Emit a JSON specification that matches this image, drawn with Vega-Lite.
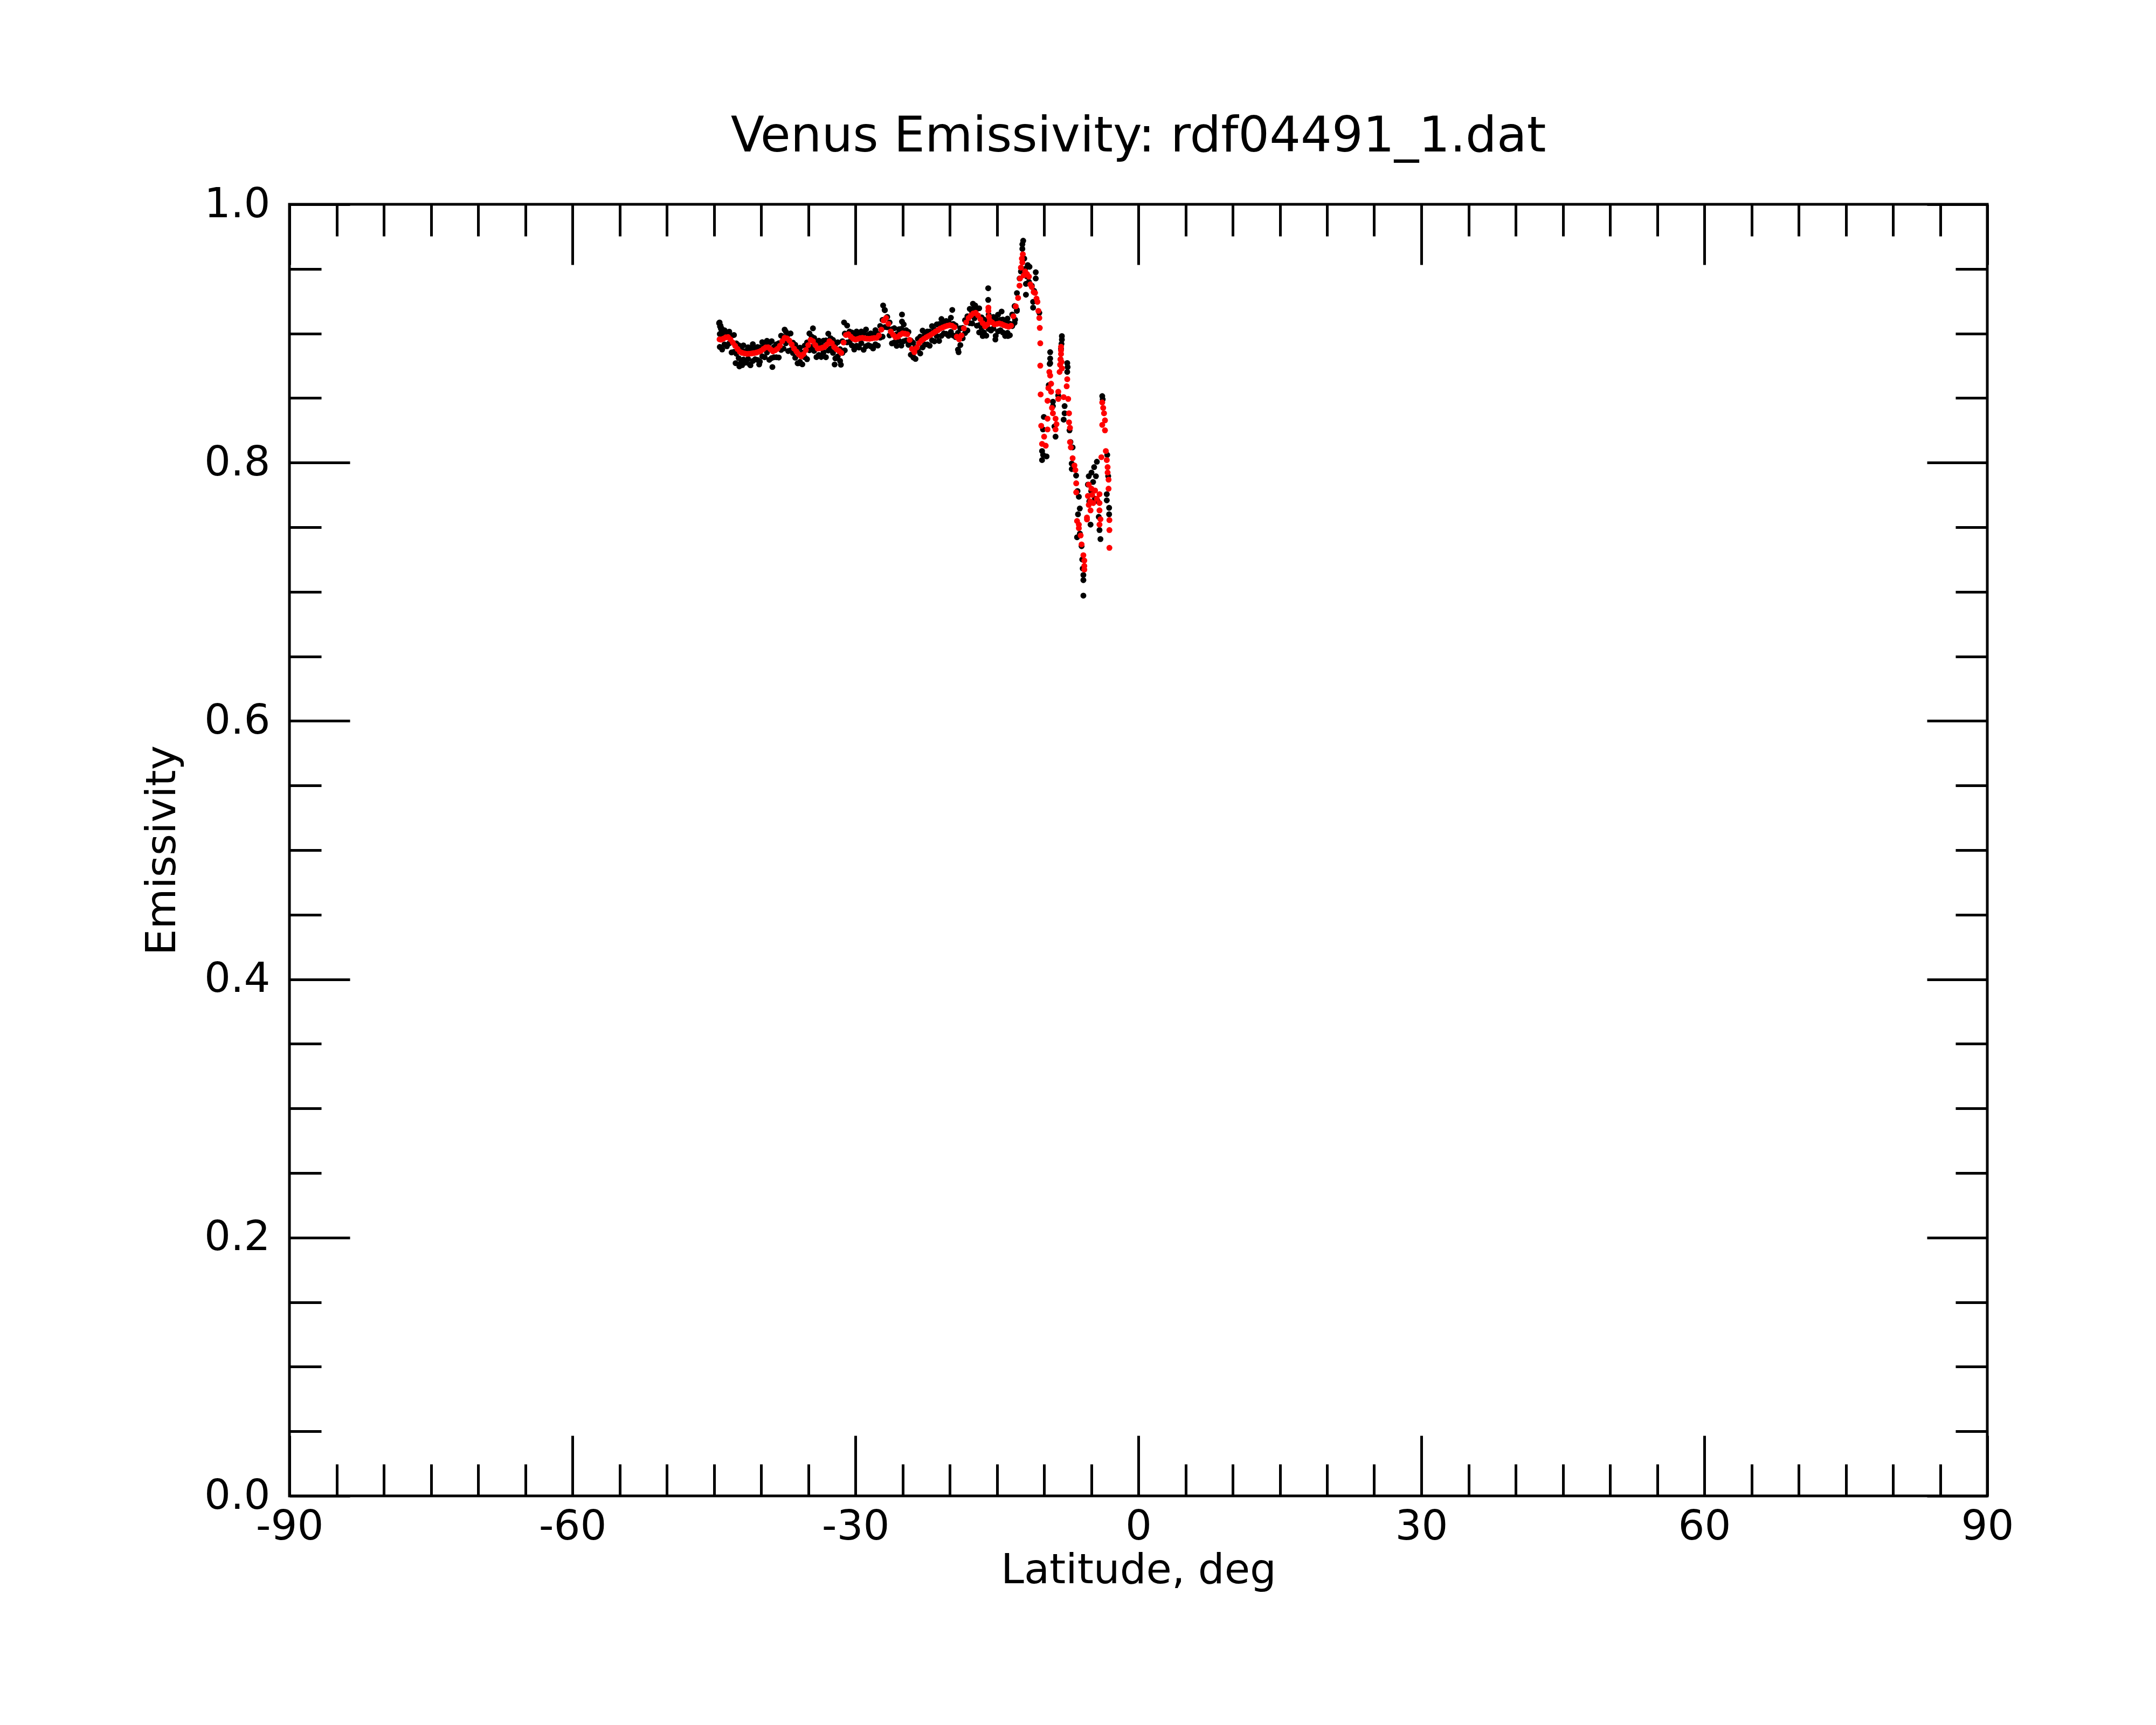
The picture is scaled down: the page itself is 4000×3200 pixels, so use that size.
{
  "$schema": "https://vega.github.io/schema/vega-lite/v6.json",
  "autosize": "none",
  "width": 3150,
  "height": 2396,
  "padding": {"left": 537, "top": 379, "right": 313, "bottom": 425},
  "background": "white",
  "title": {
    "text": "Venus Emissivity: rdf04491_1.dat",
    "font": "DejaVu Sans",
    "fontSize": 91,
    "fontWeight": "normal",
    "color": "black",
    "anchor": "middle",
    "offset": 40
  },
  "config": {
    "view": {"stroke": "black", "strokeWidth": 5},
    "font": "DejaVu Sans",
    "axis": {
      "domain": false,
      "grid": false,
      "tickColor": "black",
      "tickWidth": 5,
      "labelFont": "DejaVu Sans",
      "labelFontSize": 77,
      "labelColor": "black",
      "labelOverlap": false,
      "labelFlush": false,
      "titleFont": "DejaVu Sans",
      "titleFontSize": 77,
      "titleFontWeight": "normal",
      "titleColor": "black"
    }
  },
  "datasets": {
    "raw": [
      {"lat": -44.45, "e": 0.908}, {"lat": -44.4, "e": 0.9085}, {"lat": -44.35, "e": 0.9055}, {"lat": -44.3, "e": 0.906}, {"lat": -44.25, "e": 0.9035}, {"lat": -44.2, "e": 0.904}, {"lat": -44.15, "e": 0.901},
      {"lat": -44.375, "e": 0.8896}, {"lat": -44.375, "e": 0.8996},
      {"lat": -44.125, "e": 0.8876}, {"lat": -44.125, "e": 0.8986},
      {"lat": -43.875, "e": 0.8915}, {"lat": -43.875, "e": 0.9025},
      {"lat": -43.625, "e": 0.8901}, {"lat": -43.625, "e": 0.8991},
      {"lat": -43.375, "e": 0.8924}, {"lat": -43.375, "e": 0.9014},
      {"lat": -43.125, "e": 0.8853}, {"lat": -43.125, "e": 0.8983},
      {"lat": -42.875, "e": 0.8858}, {"lat": -42.875, "e": 0.8988},
      {"lat": -42.625, "e": 0.8843}, {"lat": -42.625, "e": 0.8923},
      {"lat": -42.375, "e": 0.8809}, {"lat": -42.375, "e": 0.8909},
      {"lat": -42.125, "e": 0.8774}, {"lat": -42.125, "e": 0.8884},
      {"lat": -41.875, "e": 0.8798}, {"lat": -41.875, "e": 0.8908},
      {"lat": -41.625, "e": 0.8774}, {"lat": -41.625, "e": 0.8864},
      {"lat": -41.375, "e": 0.8803}, {"lat": -41.375, "e": 0.8893},
      {"lat": -41.125, "e": 0.8754}, {"lat": -41.125, "e": 0.8884},
      {"lat": -40.875, "e": 0.8787}, {"lat": -40.875, "e": 0.8917},
      {"lat": -40.625, "e": 0.88}, {"lat": -40.625, "e": 0.888},
      {"lat": -40.375, "e": 0.8795}, {"lat": -40.375, "e": 0.8895},
      {"lat": -40.125, "e": 0.8782}, {"lat": -40.125, "e": 0.8892},
      {"lat": -39.875, "e": 0.8823}, {"lat": -39.875, "e": 0.8933},
      {"lat": -39.625, "e": 0.8816}, {"lat": -39.625, "e": 0.8906},
      {"lat": -39.375, "e": 0.8853}, {"lat": -39.375, "e": 0.8943},
      {"lat": -39.125, "e": 0.8796}, {"lat": -39.125, "e": 0.8926},
      {"lat": -38.875, "e": 0.881}, {"lat": -38.875, "e": 0.894},
      {"lat": -38.625, "e": 0.8816}, {"lat": -38.625, "e": 0.8896},
      {"lat": -38.375, "e": 0.8816}, {"lat": -38.375, "e": 0.8916},
      {"lat": -38.125, "e": 0.8814}, {"lat": -38.125, "e": 0.8924},
      {"lat": -37.875, "e": 0.8873}, {"lat": -37.875, "e": 0.8983},
      {"lat": -37.625, "e": 0.8883}, {"lat": -37.625, "e": 0.8973},
      {"lat": -37.375, "e": 0.8924}, {"lat": -37.375, "e": 0.9014},
      {"lat": -37.125, "e": 0.8864}, {"lat": -37.125, "e": 0.8994},
      {"lat": -36.875, "e": 0.887}, {"lat": -36.875, "e": 0.9},
      {"lat": -36.625, "e": 0.8849}, {"lat": -36.625, "e": 0.8929},
      {"lat": -36.375, "e": 0.8812}, {"lat": -36.375, "e": 0.8912},
      {"lat": -36.125, "e": 0.8769}, {"lat": -36.125, "e": 0.8879},
      {"lat": -35.875, "e": 0.878}, {"lat": -35.875, "e": 0.889},
      {"lat": -35.625, "e": 0.8761}, {"lat": -35.625, "e": 0.8851},
      {"lat": -35.375, "e": 0.8816}, {"lat": -35.375, "e": 0.8906},
      {"lat": -35.125, "e": 0.8801}, {"lat": -35.125, "e": 0.8931},
      {"lat": -34.875, "e": 0.887}, {"lat": -34.875, "e": 0.9},
      {"lat": -34.625, "e": 0.8895}, {"lat": -34.625, "e": 0.8975},
      {"lat": -34.375, "e": 0.8865}, {"lat": -34.375, "e": 0.8965},
      {"lat": -34.125, "e": 0.8817}, {"lat": -34.125, "e": 0.8927},
      {"lat": -33.875, "e": 0.8834}, {"lat": -33.875, "e": 0.8944},
      {"lat": -33.625, "e": 0.8818}, {"lat": -33.625, "e": 0.8908},
      {"lat": -33.375, "e": 0.8854}, {"lat": -33.375, "e": 0.8944},
      {"lat": -33.125, "e": 0.8816}, {"lat": -33.125, "e": 0.8946},
      {"lat": -32.875, "e": 0.8868}, {"lat": -32.875, "e": 0.8998},
      {"lat": -32.625, "e": 0.8883}, {"lat": -32.625, "e": 0.8963},
      {"lat": -32.375, "e": 0.885}, {"lat": -32.375, "e": 0.895},
      {"lat": -32.125, "e": 0.8807}, {"lat": -32.125, "e": 0.8917},
      {"lat": -31.875, "e": 0.8822}, {"lat": -31.875, "e": 0.8932},
      {"lat": -31.625, "e": 0.8788}, {"lat": -31.625, "e": 0.8878},
      {"lat": -31.375, "e": 0.885}, {"lat": -31.375, "e": 0.894},
      {"lat": -31.125, "e": 0.8869}, {"lat": -31.125, "e": 0.8999},
      {"lat": -30.875, "e": 0.8931}, {"lat": -30.875, "e": 0.9061},
      {"lat": -30.625, "e": 0.8935}, {"lat": -30.625, "e": 0.9015},
      {"lat": -30.375, "e": 0.8908}, {"lat": -30.375, "e": 0.9008},
      {"lat": -30.125, "e": 0.8876}, {"lat": -30.125, "e": 0.8986},
      {"lat": -29.875, "e": 0.8905}, {"lat": -29.875, "e": 0.9015},
      {"lat": -29.625, "e": 0.8891}, {"lat": -29.625, "e": 0.8981},
      {"lat": -29.375, "e": 0.8925}, {"lat": -29.375, "e": 0.9015},
      {"lat": -29.125, "e": 0.8874}, {"lat": -29.125, "e": 0.9004},
      {"lat": -28.875, "e": 0.8901}, {"lat": -28.875, "e": 0.9031},
      {"lat": -28.625, "e": 0.891}, {"lat": -28.625, "e": 0.899},
      {"lat": -28.375, "e": 0.8901}, {"lat": -28.375, "e": 0.9001},
      {"lat": -28.125, "e": 0.8884}, {"lat": -28.125, "e": 0.8994},
      {"lat": -27.875, "e": 0.8916}, {"lat": -27.875, "e": 0.9026},
      {"lat": -27.625, "e": 0.8906}, {"lat": -27.625, "e": 0.8996},
      {"lat": -27.375, "e": 0.8968}, {"lat": -27.375, "e": 0.9058},
      {"lat": -27.125, "e": 0.8975}, {"lat": -27.125, "e": 0.9105},
      {"lat": -26.875, "e": 0.905}, {"lat": -26.875, "e": 0.918},
      {"lat": -26.625, "e": 0.9048}, {"lat": -26.625, "e": 0.9128},
      {"lat": -26.375, "e": 0.8985}, {"lat": -26.375, "e": 0.9085},
      {"lat": -26.125, "e": 0.8923}, {"lat": -26.125, "e": 0.9033},
      {"lat": -25.875, "e": 0.8931}, {"lat": -25.875, "e": 0.9041},
      {"lat": -25.625, "e": 0.8904}, {"lat": -25.625, "e": 0.8994},
      {"lat": -25.375, "e": 0.8943}, {"lat": -25.375, "e": 0.9033},
      {"lat": -25.125, "e": 0.8906}, {"lat": -25.125, "e": 0.9036},
      {"lat": -24.875, "e": 0.894}, {"lat": -24.875, "e": 0.907},
      {"lat": -24.625, "e": 0.8946}, {"lat": -24.625, "e": 0.9026},
      {"lat": -24.375, "e": 0.8912}, {"lat": -24.375, "e": 0.9012},
      {"lat": -24.125, "e": 0.8835}, {"lat": -24.125, "e": 0.8945},
      {"lat": -23.875, "e": 0.8818}, {"lat": -23.875, "e": 0.8928},
      {"lat": -23.625, "e": 0.8803}, {"lat": -23.625, "e": 0.8893},
      {"lat": -23.375, "e": 0.8868}, {"lat": -23.375, "e": 0.8958},
      {"lat": -23.125, "e": 0.8845}, {"lat": -23.125, "e": 0.8975},
      {"lat": -22.875, "e": 0.8892}, {"lat": -22.875, "e": 0.9022},
      {"lat": -22.625, "e": 0.8914}, {"lat": -22.625, "e": 0.8994},
      {"lat": -22.375, "e": 0.8915}, {"lat": -22.375, "e": 0.9015},
      {"lat": -22.125, "e": 0.8905}, {"lat": -22.125, "e": 0.9015},
      {"lat": -21.875, "e": 0.8947}, {"lat": -21.875, "e": 0.9057},
      {"lat": -21.625, "e": 0.8939}, {"lat": -21.625, "e": 0.9029},
      {"lat": -21.375, "e": 0.898}, {"lat": -21.375, "e": 0.907},
      {"lat": -21.125, "e": 0.8942}, {"lat": -21.125, "e": 0.9072},
      {"lat": -20.875, "e": 0.8982}, {"lat": -20.875, "e": 0.9112},
      {"lat": -20.625, "e": 0.9}, {"lat": -20.625, "e": 0.908},
      {"lat": -20.375, "e": 0.8997}, {"lat": -20.375, "e": 0.9097},
      {"lat": -20.125, "e": 0.8982}, {"lat": -20.125, "e": 0.9092},
      {"lat": -19.875, "e": 0.9012}, {"lat": -19.875, "e": 0.9122},
      {"lat": -19.625, "e": 0.8984}, {"lat": -19.625, "e": 0.9074},
      {"lat": -19.375, "e": 0.8972}, {"lat": -19.375, "e": 0.9062},
      {"lat": -19.125, "e": 0.8875}, {"lat": -19.125, "e": 0.9005},
      {"lat": -18.875, "e": 0.891}, {"lat": -18.875, "e": 0.904},
      {"lat": -18.625, "e": 0.8963}, {"lat": -18.625, "e": 0.9043},
      {"lat": -18.375, "e": 0.9003}, {"lat": -18.375, "e": 0.9103},
      {"lat": -18.125, "e": 0.9023}, {"lat": -18.125, "e": 0.9133},
      {"lat": -17.875, "e": 0.908}, {"lat": -17.875, "e": 0.919},
      {"lat": -17.625, "e": 0.9078}, {"lat": -17.625, "e": 0.9168},
      {"lat": -17.375, "e": 0.9118}, {"lat": -17.375, "e": 0.9208},
      {"lat": -17.125, "e": 0.906}, {"lat": -17.125, "e": 0.919},
      {"lat": -16.875, "e": 0.9065}, {"lat": -16.875, "e": 0.9195},
      {"lat": -16.625, "e": 0.9045}, {"lat": -16.625, "e": 0.9125},
      {"lat": -16.375, "e": 0.9008}, {"lat": -16.375, "e": 0.9108},
      {"lat": -16.125, "e": 0.8983}, {"lat": -16.125, "e": 0.9093},
      {"lat": -15.875, "e": 0.9035}, {"lat": -15.875, "e": 0.9145},
      {"lat": -15.625, "e": 0.9023}, {"lat": -15.625, "e": 0.9113},
      {"lat": -15.375, "e": 0.9038}, {"lat": -15.375, "e": 0.9128},
      {"lat": -15.125, "e": 0.8982}, {"lat": -15.125, "e": 0.9112},
      {"lat": -14.875, "e": 0.9016}, {"lat": -14.875, "e": 0.9146},
      {"lat": -14.625, "e": 0.9025}, {"lat": -14.625, "e": 0.9105},
      {"lat": -14.375, "e": 0.9008}, {"lat": -14.375, "e": 0.9108},
      {"lat": -14.125, "e": 0.8981}, {"lat": -14.125, "e": 0.9091},
      {"lat": -13.875, "e": 0.9005}, {"lat": -13.875, "e": 0.9115},
      {"lat": -13.625, "e": 0.8986}, {"lat": -13.625, "e": 0.9076},
      {"lat": -13.375, "e": 0.9057}, {"lat": -13.375, "e": 0.9147},
      {"lat": -13.125, "e": 0.9082}, {"lat": -13.125, "e": 0.9212},
      {"lat": -12.875, "e": 0.9183}, {"lat": -12.875, "e": 0.9313},
      {"lat": -42.7, "e": 0.877}, {"lat": -42.3, "e": 0.8745}, {"lat": -42.0, "e": 0.8755}, {"lat": -41.2, "e": 0.876}, {"lat": -40.2, "e": 0.876},
      {"lat": -38.8, "e": 0.874}, {"lat": -37.5, "e": 0.903}, {"lat": -36.0, "e": 0.877}, {"lat": -34.5, "e": 0.904}, {"lat": -32.2, "e": 0.876},
      {"lat": -31.2, "e": 0.9085}, {"lat": -31.54, "e": 0.8758}, {"lat": -27.06, "e": 0.9217}, {"lat": -26.9, "e": 0.9182}, {"lat": -25.06, "e": 0.9147},
      {"lat": -25.06, "e": 0.9092}, {"lat": -23.83, "e": 0.8813}, {"lat": -19.73, "e": 0.9182}, {"lat": -19.06, "e": 0.8855}, {"lat": -17.54, "e": 0.923},
      {"lat": -17.3, "e": 0.9217}, {"lat": -15.92, "e": 0.935}, {"lat": -15.92, "e": 0.926}, {"lat": -14.5, "e": 0.917}, {"lat": -16.5, "e": 0.898},
      {"lat": -15.16, "e": 0.8953}, {"lat": -13.83, "e": 0.898}, {"lat": -16.88, "e": 0.9008},
      {"lat": -12.21, "e": 0.9718}, {"lat": -12.3, "e": 0.969}, {"lat": -12.3, "e": 0.9655}, {"lat": -12.59, "e": 0.9426}, {"lat": -12.88, "e": 0.9175},
      {"lat": -13.07, "e": 0.9106}, {"lat": -11.73, "e": 0.953}, {"lat": -11.54, "e": 0.9516}, {"lat": -10.88, "e": 0.9474}, {"lat": -10.88, "e": 0.9426},
      {"lat": -11.92, "e": 0.9384}, {"lat": -11.92, "e": 0.93}, {"lat": -11.16, "e": 0.9245}, {"lat": -11.16, "e": 0.92}, {"lat": -10.5, "e": 0.916},
      {"lat": -12.0, "e": 0.95}, {"lat": -11.8, "e": 0.944}, {"lat": -11.6, "e": 0.94}, {"lat": -11.3, "e": 0.937}, {"lat": -11.05, "e": 0.933},
      {"lat": -12.1, "e": 0.958}, {"lat": -12.45, "e": 0.948},
      {"lat": -8.11, "e": 0.898}, {"lat": -8.11, "e": 0.8952}, {"lat": -8.15, "e": 0.892}, {"lat": -9.35, "e": 0.8855}, {"lat": -9.35, "e": 0.8806},
      {"lat": -9.4, "e": 0.8764}, {"lat": -9.35, "e": 0.877}, {"lat": -7.54, "e": 0.8771}, {"lat": -7.54, "e": 0.8702}, {"lat": -7.5, "e": 0.874},
      {"lat": -9.06, "e": 0.8472}, {"lat": -9.06, "e": 0.8438}, {"lat": -10.02, "e": 0.8354}, {"lat": -10.11, "e": 0.8257}, {"lat": -8.78, "e": 0.8201},
      {"lat": -10.21, "e": 0.809}, {"lat": -10.21, "e": 0.802}, {"lat": -9.73, "e": 0.8048}, {"lat": -10.1, "e": 0.806}, {"lat": -7.82, "e": 0.8438},
      {"lat": -7.82, "e": 0.8382}, {"lat": -7.92, "e": 0.8333}, {"lat": -7.06, "e": 0.795}, {"lat": -8.2, "e": 0.888}, {"lat": -8.25, "e": 0.88},
      {"lat": -9.5, "e": 0.86}, {"lat": -8.5, "e": 0.852}, {"lat": -8.9, "e": 0.828}, {"lat": -7.3, "e": 0.825}, {"lat": -7.2, "e": 0.816},
      {"lat": -6.97, "e": 0.8118}, {"lat": -7.07, "e": 0.7993}, {"lat": -6.31, "e": 0.7736}, {"lat": -6.21, "e": 0.7645}, {"lat": -6.5, "e": 0.7422},
      {"lat": -6.02, "e": 0.7353}, {"lat": -5.83, "e": 0.713}, {"lat": -5.83, "e": 0.709}, {"lat": -5.83, "e": 0.697}, {"lat": -6.6, "e": 0.79},
      {"lat": -6.45, "e": 0.778}, {"lat": -6.4, "e": 0.76}, {"lat": -6.2, "e": 0.745}, {"lat": -5.95, "e": 0.725}, {"lat": -5.9, "e": 0.718},
      {"lat": -5.26, "e": 0.7895}, {"lat": -4.97, "e": 0.7923}, {"lat": -4.69, "e": 0.7965}, {"lat": -4.4, "e": 0.8007}, {"lat": -4.5, "e": 0.7895},
      {"lat": -5.07, "e": 0.752}, {"lat": -4.12, "e": 0.7478}, {"lat": -4.02, "e": 0.7408}, {"lat": -5.35, "e": 0.783}, {"lat": -4.3, "e": 0.77},
      {"lat": -5.0, "e": 0.778}, {"lat": -4.8, "e": 0.785}, {"lat": -5.2, "e": 0.77}, {"lat": -4.6, "e": 0.772}, {"lat": -4.2, "e": 0.758},
      {"lat": -3.83, "e": 0.8515}, {"lat": -3.78, "e": 0.849}, {"lat": -3.35, "e": 0.7756}, {"lat": -3.35, "e": 0.7708}, {"lat": -3.3, "e": 0.806},
      {"lat": -3.2, "e": 0.7895}, {"lat": -3.1, "e": 0.765}, {"lat": -3.1, "e": 0.76}
    ],
    "smooth": [
      {"lat": -44.4, "e": 0.8955}, {"lat": -44.25, "e": 0.8952}, {"lat": -44.0, "e": 0.896}, {"lat": -43.75, "e": 0.897}, {"lat": -43.5, "e": 0.8972},
      {"lat": -43.25, "e": 0.8955}, {"lat": -43.0, "e": 0.893}, {"lat": -42.75, "e": 0.8905}, {"lat": -42.5, "e": 0.888}, {"lat": -42.25, "e": 0.8858},
      {"lat": -42.0, "e": 0.885}, {"lat": -41.75, "e": 0.8845}, {"lat": -41.5, "e": 0.8842}, {"lat": -41.25, "e": 0.8843}, {"lat": -41.0, "e": 0.8845},
      {"lat": -40.75, "e": 0.8848}, {"lat": -40.5, "e": 0.8852}, {"lat": -40.25, "e": 0.8858}, {"lat": -40.0, "e": 0.8866}, {"lat": -39.75, "e": 0.888},
      {"lat": -39.5, "e": 0.8892}, {"lat": -39.25, "e": 0.8893}, {"lat": -39.0, "e": 0.8878}, {"lat": -38.75, "e": 0.8862}, {"lat": -38.5, "e": 0.887},
      {"lat": -38.25, "e": 0.8882}, {"lat": -38.0, "e": 0.8905}, {"lat": -37.75, "e": 0.894}, {"lat": -37.5, "e": 0.8966}, {"lat": -37.25, "e": 0.8962},
      {"lat": -37.0, "e": 0.8945}, {"lat": -36.75, "e": 0.8915}, {"lat": -36.5, "e": 0.8883}, {"lat": -36.25, "e": 0.886}, {"lat": -36.0, "e": 0.8838},
      {"lat": -35.75, "e": 0.8822}, {"lat": -35.5, "e": 0.884}, {"lat": -35.25, "e": 0.8872}, {"lat": -35.0, "e": 0.891}, {"lat": -34.75, "e": 0.895},
      {"lat": -34.5, "e": 0.894}, {"lat": -34.25, "e": 0.891}, {"lat": -34.0, "e": 0.8883}, {"lat": -33.75, "e": 0.8885}, {"lat": -33.5, "e": 0.889},
      {"lat": -33.25, "e": 0.8897}, {"lat": -33.0, "e": 0.8915}, {"lat": -32.75, "e": 0.894}, {"lat": -32.5, "e": 0.8925}, {"lat": -32.25, "e": 0.8895},
      {"lat": -32.0, "e": 0.8878}, {"lat": -31.75, "e": 0.8865}, {"lat": -31.5, "e": 0.885}, {"lat": -31.25, "e": 0.893}, {"lat": -31.0, "e": 0.8988},
      {"lat": -30.75, "e": 0.8994}, {"lat": -30.5, "e": 0.8975}, {"lat": -30.25, "e": 0.896}, {"lat": -30.0, "e": 0.8952}, {"lat": -29.75, "e": 0.8958},
      {"lat": -29.5, "e": 0.8964}, {"lat": -29.25, "e": 0.8966}, {"lat": -29.0, "e": 0.8962}, {"lat": -28.75, "e": 0.896}, {"lat": -28.5, "e": 0.8959},
      {"lat": -28.25, "e": 0.8962}, {"lat": -28.0, "e": 0.8965}, {"lat": -27.75, "e": 0.8966}, {"lat": -27.5, "e": 0.8985}, {"lat": -27.25, "e": 0.903},
      {"lat": -27.0, "e": 0.91}, {"lat": -26.75, "e": 0.912}, {"lat": -26.5, "e": 0.9075}, {"lat": -26.25, "e": 0.9015}, {"lat": -26.0, "e": 0.899},
      {"lat": -25.75, "e": 0.8972}, {"lat": -25.5, "e": 0.8975}, {"lat": -25.25, "e": 0.899}, {"lat": -25.0, "e": 0.9001}, {"lat": -24.75, "e": 0.8998},
      {"lat": -24.5, "e": 0.8994}, {"lat": -24.25, "e": 0.895}, {"lat": -24.0, "e": 0.888}, {"lat": -23.75, "e": 0.8855}, {"lat": -23.5, "e": 0.889},
      {"lat": -23.25, "e": 0.8925}, {"lat": -23.0, "e": 0.8945}, {"lat": -22.75, "e": 0.8958}, {"lat": -22.5, "e": 0.897}, {"lat": -22.25, "e": 0.898},
      {"lat": -22.0, "e": 0.899}, {"lat": -21.75, "e": 0.9003}, {"lat": -21.5, "e": 0.9015}, {"lat": -21.25, "e": 0.9025}, {"lat": -21.0, "e": 0.9038},
      {"lat": -20.75, "e": 0.9046}, {"lat": -20.5, "e": 0.9054}, {"lat": -20.25, "e": 0.906}, {"lat": -20.0, "e": 0.9064}, {"lat": -19.75, "e": 0.906},
      {"lat": -19.5, "e": 0.9048}, {"lat": -19.25, "e": 0.8975}, {"lat": -19.0, "e": 0.8955}, {"lat": -18.75, "e": 0.8985}, {"lat": -18.5, "e": 0.904},
      {"lat": -18.25, "e": 0.9085}, {"lat": -18.0, "e": 0.912}, {"lat": -17.75, "e": 0.914}, {"lat": -17.5, "e": 0.9155}, {"lat": -17.25, "e": 0.916},
      {"lat": -17.0, "e": 0.914}, {"lat": -16.75, "e": 0.911}, {"lat": -16.5, "e": 0.908}, {"lat": -16.25, "e": 0.9055}, {"lat": -16.0, "e": 0.907},
      {"lat": -15.9, "e": 0.92}, {"lat": -15.9, "e": 0.9175}, {"lat": -15.85, "e": 0.913},
      {"lat": -15.75, "e": 0.91}, {"lat": -15.5, "e": 0.9085}, {"lat": -15.25, "e": 0.907}, {"lat": -15.0, "e": 0.9074}, {"lat": -14.75, "e": 0.9078},
      {"lat": -14.5, "e": 0.9072}, {"lat": -14.25, "e": 0.9064}, {"lat": -14.0, "e": 0.9058}, {"lat": -13.75, "e": 0.9052}, {"lat": -13.5, "e": 0.906},
      {"lat": -13.25, "e": 0.9133}, {"lat": -13.0, "e": 0.921}, {"lat": -12.75, "e": 0.9275}, {"lat": -12.6, "e": 0.937}, {"lat": -12.55, "e": 0.9426},
      {"lat": -12.45, "e": 0.951}, {"lat": -12.35, "e": 0.958}, {"lat": -12.25, "e": 0.9613}, {"lat": -12.3, "e": 0.955}, {"lat": -12.15, "e": 0.945},
      {"lat": -12.0, "e": 0.948}, {"lat": -11.8, "e": 0.946}, {"lat": -11.6, "e": 0.944}, {"lat": -11.45, "e": 0.938}, {"lat": -11.3, "e": 0.936},
      {"lat": -11.1, "e": 0.932}, {"lat": -10.95, "e": 0.9314}, {"lat": -10.8, "e": 0.927}, {"lat": -10.7, "e": 0.9245}, {"lat": -10.6, "e": 0.9175},
      {"lat": -10.5, "e": 0.912}, {"lat": -10.45, "e": 0.9043},
      {"lat": -10.4, "e": 0.8924}, {"lat": -10.4, "e": 0.8751}, {"lat": -10.36, "e": 0.8528}, {"lat": -9.44, "e": 0.8702}, {"lat": -9.35, "e": 0.8674},
      {"lat": -9.25, "e": 0.8611}, {"lat": -9.54, "e": 0.8577}, {"lat": -9.25, "e": 0.8549}, {"lat": -9.63, "e": 0.8479}, {"lat": -9.16, "e": 0.8424},
      {"lat": -9.06, "e": 0.8382}, {"lat": -9.63, "e": 0.834}, {"lat": -10.3, "e": 0.8285}, {"lat": -9.63, "e": 0.8257}, {"lat": -9.99, "e": 0.8201},
      {"lat": -10.21, "e": 0.8145}, {"lat": -9.82, "e": 0.8131}, {"lat": -8.78, "e": 0.834}, {"lat": -8.68, "e": 0.8298}, {"lat": -8.78, "e": 0.8257},
      {"lat": -8.49, "e": 0.8549}, {"lat": -8.49, "e": 0.8493}, {"lat": -8.2, "e": 0.8897}, {"lat": -8.2, "e": 0.8869}, {"lat": -8.2, "e": 0.8841},
      {"lat": -8.25, "e": 0.88}, {"lat": -8.3, "e": 0.8758}, {"lat": -8.35, "e": 0.8702}, {"lat": -8.1, "e": 0.873}, {"lat": -8.15, "e": 0.878},
      {"lat": -7.54, "e": 0.8646}, {"lat": -7.6, "e": 0.8591}, {"lat": -7.92, "e": 0.8507}, {"lat": -7.44, "e": 0.8493}, {"lat": -7.35, "e": 0.8382},
      {"lat": -7.35, "e": 0.8312}, {"lat": -7.25, "e": 0.827}, {"lat": -7.25, "e": 0.8159}, {"lat": -7.16, "e": 0.8118}, {"lat": -6.97, "e": 0.8034},
      {"lat": -6.78, "e": 0.7978}, {"lat": -6.68, "e": 0.7943}, {"lat": -6.59, "e": 0.784}, {"lat": -6.59, "e": 0.777}, {"lat": -6.5, "e": 0.7548},
      {"lat": -6.31, "e": 0.752}, {"lat": -6.31, "e": 0.7492}, {"lat": -6.12, "e": 0.7436}, {"lat": -6.02, "e": 0.7367}, {"lat": -5.83, "e": 0.7283},
      {"lat": -5.73, "e": 0.7242}, {"lat": -5.73, "e": 0.72}, {"lat": -5.73, "e": 0.7172},
      {"lat": -5.26, "e": 0.783}, {"lat": -4.97, "e": 0.7798}, {"lat": -4.59, "e": 0.7784}, {"lat": -4.12, "e": 0.7756}, {"lat": -5.35, "e": 0.7742},
      {"lat": -5.26, "e": 0.7673}, {"lat": -5.07, "e": 0.763}, {"lat": -5.45, "e": 0.7575}, {"lat": -4.78, "e": 0.7687}, {"lat": -4.12, "e": 0.7687},
      {"lat": -4.12, "e": 0.763}, {"lat": -4.02, "e": 0.7562}, {"lat": -4.12, "e": 0.752}, {"lat": -5.45, "e": 0.756}, {"lat": -4.9, "e": 0.775},
      {"lat": -4.4, "e": 0.772}, {"lat": -5.1, "e": 0.77},
      {"lat": -3.83, "e": 0.8466}, {"lat": -3.73, "e": 0.8424}, {"lat": -3.64, "e": 0.8382}, {"lat": -3.54, "e": 0.8327}, {"lat": -3.83, "e": 0.8292},
      {"lat": -3.54, "e": 0.825}, {"lat": -3.45, "e": 0.809}, {"lat": -3.92, "e": 0.8042}, {"lat": -3.35, "e": 0.802}, {"lat": -3.26, "e": 0.7965},
      {"lat": -3.26, "e": 0.7923}, {"lat": -3.16, "e": 0.7868}, {"lat": -3.16, "e": 0.7798}, {"lat": -3.07, "e": 0.7555}, {"lat": -3.07, "e": 0.7478},
      {"lat": -3.07, "e": 0.734}
    ]
  },
  "layer": [
    {
      "data": {"name": "raw"},
      "mark": {"type": "point", "filled": true, "shape": "circle", "size": 120, "color": "black", "opacity": 1},
      "encoding": {
        "x": {
          "field": "lat",
          "type": "quantitative",
          "scale": {"domain": [-90, 90], "nice": false, "zero": false},
          "axis": {
            "orient": "bottom",
            "title": "Latitude, deg",
            "titlePadding": -48,
            "values": [-90, -85, -80, -75, -70, -65, -60, -55, -50, -45, -40, -35, -30, -25, -20, -15, -10, -5, 0, 5, 10, 15, 20, 25, 30, 35, 40, 45, 50, 55, 60, 65, 70, 75, 80, 85, 90],
            "tickSize": {"condition": {"test": "datum.value % 30 === 0", "value": -112}, "value": -59},
            "labelExpr": "datum.value % 30 === 0 ? '' + datum.value : ''",
            "labelPadding": 131
          }
        },
        "y": {
          "field": "e",
          "type": "quantitative",
          "scale": {"domain": [0, 1], "nice": false, "zero": false},
          "axis": {
            "orient": "left",
            "title": "Emissivity",
            "titlePadding": 38,
            "values": [0, 0.05, 0.1, 0.15, 0.2, 0.25, 0.3, 0.35, 0.4, 0.45, 0.5, 0.55, 0.6, 0.65, 0.7, 0.75, 0.8, 0.85, 0.9, 0.95, 1],
            "tickSize": {"condition": {"test": "abs(datum.value * 5 - round(datum.value * 5)) < 0.001", "value": -112}, "value": -59},
            "labelExpr": "abs(datum.value * 5 - round(datum.value * 5)) < 0.001 ? format(datum.value, '.1f') : ''",
            "labelPadding": 148
          }
        }
      }
    },
    {
      "data": {"name": "smooth"},
      "mark": {"type": "point", "filled": true, "shape": "circle", "size": 120, "color": "#ff0000", "opacity": 1},
      "encoding": {
        "x": {
          "field": "lat",
          "type": "quantitative",
          "axis": {
            "orient": "top",
            "title": null,
            "labels": false,
            "values": [-90, -85, -80, -75, -70, -65, -60, -55, -50, -45, -40, -35, -30, -25, -20, -15, -10, -5, 0, 5, 10, 15, 20, 25, 30, 35, 40, 45, 50, 55, 60, 65, 70, 75, 80, 85, 90],
            "tickSize": {"condition": {"test": "datum.value % 30 === 0", "value": -112}, "value": -59}
          }
        },
        "y": {
          "field": "e",
          "type": "quantitative",
          "axis": {
            "orient": "right",
            "title": null,
            "labels": false,
            "values": [0, 0.05, 0.1, 0.15, 0.2, 0.25, 0.3, 0.35, 0.4, 0.45, 0.5, 0.55, 0.6, 0.65, 0.7, 0.75, 0.8, 0.85, 0.9, 0.95, 1],
            "tickSize": {"condition": {"test": "abs(datum.value * 5 - round(datum.value * 5)) < 0.001", "value": -112}, "value": -59}
          }
        }
      }
    }
  ],
  "resolve": {"axis": {"x": "independent", "y": "independent"}}
}
